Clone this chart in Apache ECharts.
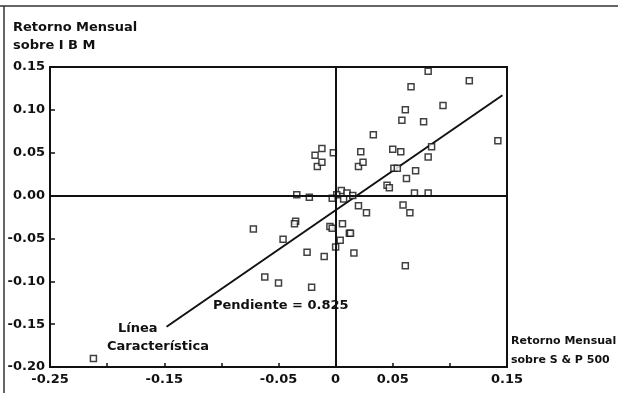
<!DOCTYPE html>
<html>
<head>
<meta charset="utf-8">
<script src="https://cdn.jsdelivr.net/npm/echarts@6/dist/echarts.min.js"></script>
<style>
html,body{margin:0;padding:0;background:#fff;}
#chart{width:618px;height:393px;}
</style>
</head>
<body>
<div id="chart"></div>
<script>
// S&P 500 monthly return (x) and IBM monthly return (y)
const spReturns = [
  0.081, 0.117, 0.066, 0.094, 0.061, 0.058, 0.077, 0.033, 0.142, -0.012,
  -0.018, -0.002, 0.022, 0.050, 0.057, 0.084, 0.081, -0.016, -0.012, 0.020,
  0.024, 0.051, 0.054, 0.070, 0.062, 0.045, 0.047, 0.005, 0.010, 0.001,
  -0.023, -0.003, 0.007, 0.015, 0.069, 0.081, -0.034, 0.020, 0.027, 0.059,
  0.065, -0.005, -0.003, 0.006, 0.012, 0.013, 0.004, 0.000, -0.010, -0.025,
  0.016, 0.061, -0.021, -0.035, -0.036, -0.072, -0.046, -0.062, -0.050, -0.212
];
const ibmReturns = [
  0.145, 0.134, 0.127, 0.105, 0.100, 0.088, 0.086, 0.071, 0.064, 0.055,
  0.047, 0.050, 0.051, 0.054, 0.051, 0.057, 0.045, 0.034, 0.039, 0.034,
  0.039, 0.032, 0.032, 0.029, 0.020, 0.012, 0.009, 0.006, 0.003, 0.001,
  -0.002, -0.003, -0.004, 0.000, 0.003, 0.003, 0.001, -0.012, -0.020, -0.011,
  -0.020, -0.036, -0.038, -0.033, -0.044, -0.044, -0.052, -0.060, -0.071, -0.066,
  -0.067, -0.082, -0.107, -0.030, -0.033, -0.039, -0.051, -0.095, -0.102, -0.190
];
// Characteristic line endpoints (as drawn)
const fitX = [-0.148, 0.146];
const fitY = [-0.153, 0.117];
// Tick labels
const xTickValues = [-0.25, -0.15, -0.05, 0, 0.05, 0.15];
const xTickLabels = ['-0.25', '-0.15', '-0.05', '0', '0.05', '0.15'];
const yTickValues = [0.15, 0.10, 0.05, 0.00, -0.05, -0.10, -0.15, -0.20];
const yTickLabels = ['0.15', '0.10', '0.05', '0.00', '-0.05', '-0.10', '-0.15', '-0.20'];
const yTitle = ['Retorno Mensual', 'sobre I B M'];
const xTitle = ['Retorno Mensual', 'sobre S & P 500'];
const slopeText = 'Pendiente = 0.825';
const lineText = ['Línea', 'Característica'];

const FONT = 'DejaVu Sans';
const points = spReturns.map((x, i) => [x, ibmReturns[i]]);
const fitData = fitX.map((x, i) => [x, fitY[i]]);

function lookup(vals, labels, v) {
  for (let i = 0; i < vals.length; i++) {
    if (Math.abs(vals[i] - v) < 1e-6) return labels[i];
  }
  return '';
}

const chart = echarts.init(document.getElementById('chart'), null, {renderer: 'canvas'});
const txt = {fontFamily: FONT, fontWeight: 'bold', fill: '#111'};
chart.setOption({
  animation: false,
  backgroundColor: '#fff',
  grid: {left: 50, right: 111, top: 67, bottom: 26, show: true, borderColor: '#111', borderWidth: 2, backgroundColor: 'transparent'},
  xAxis: {
    type: 'value', min: -0.25, max: 0.15, interval: 0.05,
    axisLine: {show: true, onZero: false, lineStyle: {color: '#111', width: 2}},
    axisTick: {show: true, inside: true, length: 4, lineStyle: {color: '#111', width: 1.5}},
    splitLine: {show: false},
    axisLabel: {
      color: '#111', fontFamily: FONT, fontWeight: 'bold', fontSize: 13, margin: 6,
      formatter: v => lookup(xTickValues, xTickLabels, v)
    }
  },
  yAxis: {
    type: 'value', min: -0.2, max: 0.15, interval: 0.05,
    axisLine: {show: true, onZero: false, lineStyle: {color: '#111', width: 2}},
    axisTick: {show: true, inside: true, length: 5, lineStyle: {color: '#111', width: 1.5}},
    splitLine: {show: false},
    axisLabel: {
      color: '#111', fontFamily: FONT, fontWeight: 'bold', fontSize: 13, margin: 5,
      formatter: v => lookup(yTickValues, yTickLabels, v)
    }
  },
  series: [
    {
      type: 'line', data: fitData, symbol: 'none', silent: true,
      lineStyle: {color: '#111', width: 2}, z: 3
    },
    {
      type: 'scatter', data: points, symbol: 'rect', symbolSize: 6,
      itemStyle: {color: '#fff', borderColor: '#111', borderWidth: 1.5}, z: 4,
      markLine: {
        silent: true, symbol: ['none', 'none'], label: {show: false},
        lineStyle: {color: '#111', width: 2, type: 'solid'},
        data: [{xAxis: 0}, {yAxis: 0}]
      }
    }
  ],
  graphic: [
    {type: 'line', shape: {x1: 0, y1: 6, x2: 618, y2: 6}, style: {stroke: '#333', lineWidth: 1.5}},
    {type: 'line', shape: {x1: 4, y1: 6, x2: 4, y2: 393}, style: {stroke: '#333', lineWidth: 1.5}},
    {type: 'text', left: 13, top: 21, style: Object.assign({text: yTitle[0], fontSize: 13}, txt)},
    {type: 'text', left: 13, top: 39, style: Object.assign({text: yTitle[1], fontSize: 13}, txt)},
    {type: 'text', left: 511, top: 336, style: Object.assign({text: xTitle[0], fontSize: 11}, txt)},
    {type: 'text', left: 511, top: 355, style: Object.assign({text: xTitle[1], fontSize: 11}, txt)},
    {type: 'text', left: 213, top: 299, style: Object.assign({text: slopeText, fontSize: 13}, txt)},
    {type: 'text', left: 118, top: 322, style: Object.assign({text: lineText[0], fontSize: 13}, txt)},
    {type: 'text', left: 107, top: 340, style: Object.assign({text: lineText[1], fontSize: 13}, txt)}
  ]
});
</script>
</body>
</html>
